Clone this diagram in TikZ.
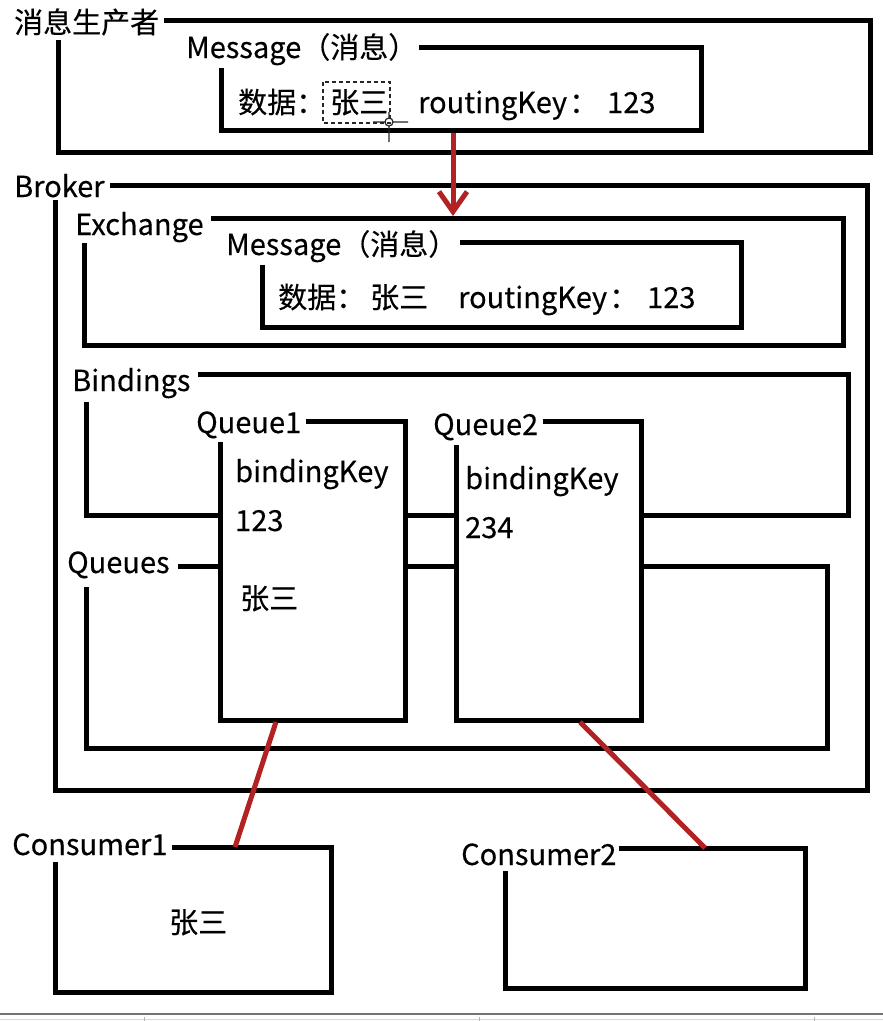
\documentclass[tikz,border=0pt]{standalone}
\usepackage{fontspec}
\setmainfont{Noto Sans CJK SC}[FakeBold=0.3]
\usetikzlibrary{arrows.meta}
\definecolor{linkred}{RGB}{178,34,34}

\begin{document}
\begin{tikzpicture}
    [x=1pt,y=-1pt,
     every node/.style={inner sep=0pt, anchor=base west, font=\fontsize{29}{31}\selectfont},
     box/.style={line width=5pt, line join=miter},
     redlink/.style={draw=linkred, line width=5pt}]
  \useasboundingbox (0,0) rectangle (883,1021);
  \fill[white] (0,0) rectangle (883,1021);

  % open boxes: start of top line / top / right / bottom / left / start of left line
  \foreach \sx/\ty/\rx/\by/\lx/\ly in {164/20/870/152/58/40, 419/47/701/130/221/68,
      110/185/867/790/55/200, 211/218/843/345/84/243, 460/242/741/327/262/265,
      198/374/848/515/86/402, 178/566/827/748/86/587}
    \draw[box] (\sx,\ty) -| (\rx,\by) -| (\lx,\ly);

  % queue boxes lie over the bindings and queues lines
  \foreach \sx/\ty/\rx/\by/\lx/\ly in {306/421/405/720/220/442, 543/421/641/720/456/445}
    {\fill[white] (\lx,\ty) rectangle (\rx,\by);
     \draw[box] (\sx,\ty) -| (\rx,\by) -| (\lx,\ly);}

  % consumers
  \foreach \sx/\ty/\rx/\by/\lx/\ly in {172/847/331/992/55/862, 619/848/805/988/505/871}
    \draw[box] (\sx,\ty) -| (\rx,\by) -| (\lx,\ly);

  \node (prod) at (14,33) {消息生产者};
  \node (msgA) at (186,58) {Message（消息）};
  \node (dataA) at (238,113) {数据：};
  \node (nameA) at (330,113) {张三};
  \node (keyA) at (418,113) {routingKey};
  \node (colA) at (569,113) {：};
  \node (valA) at (607,113) {123};

  \node (broker) at (14,197) {Broker};
  \node (exch) at (75,235) {Exchange};
  \node (msgB) at (226,255) {Message（消息）};
  \node (dataB) at (278,308) {数据：};
  \node (nameB) at (370,308) {张三};
  \node (keyB) at (458,308) {routingKey};
  \node (colB) at (609,308) {：};
  \node (valB) at (647,308) {123};

  \node (bind) at (72,391) {Bindings};
  \node (queues) at (67,573) {Queues};
  \node (q1) at (196,433) {Queue1};
  \node (key1) at (235,482) {bindingKey};
  \node (val1) at (235,531) {123};
  \node (msg1) at (240,609) {张三};
  \node (q2) at (433,435) {Queue2};
  \node (key2) at (465,489) {bindingKey};
  \node (val2) at (465,538) {234};

  \node (cons1) at (12,855) {Consumer1};
  \node (got1) at (169,933) {张三};
  \node (cons2) at (461,865) {Consumer2};

  % selection around the name, with the cursor
  \draw[dash pattern=on 4pt off 3pt, line width=1.5pt, black!85] (323,82) rectangle (390,123);
  \draw[line width=1.2pt, black!85] (389,122) circle (4)
    (373,122) -- (385,122) (393,122) -- (408,122)
    (389,112) -- (389,118) (389,126) -- (389,142);

  % message flow
  \coordinate (outA) at (453,133);
  \coordinate (inEx) at (453,216);
  \coordinate (out1) at (276,722);
  \coordinate (in1) at (235,847);
  \coordinate (out2) at (580,722);
  \coordinate (in2) at (705,848);
  \draw[redlink, -{Straight Barb[length=20pt,width=28pt]}] (outA) -- (inEx);
  \foreach \from/\to in {out1/in1, out2/in2}
    \draw[redlink] (\from) -- (\to);

  % window edge
  \draw[black!55, line width=2pt] (0,1014) -- (883,1014);
  \draw[black!15, line width=1pt] (0,1019) -- (883,1019);
  \foreach \x in {144,479,814}
    \draw[black!30, line width=1pt] (\x,1017) -- (\x,1021);
\end{tikzpicture}
\end{document}
